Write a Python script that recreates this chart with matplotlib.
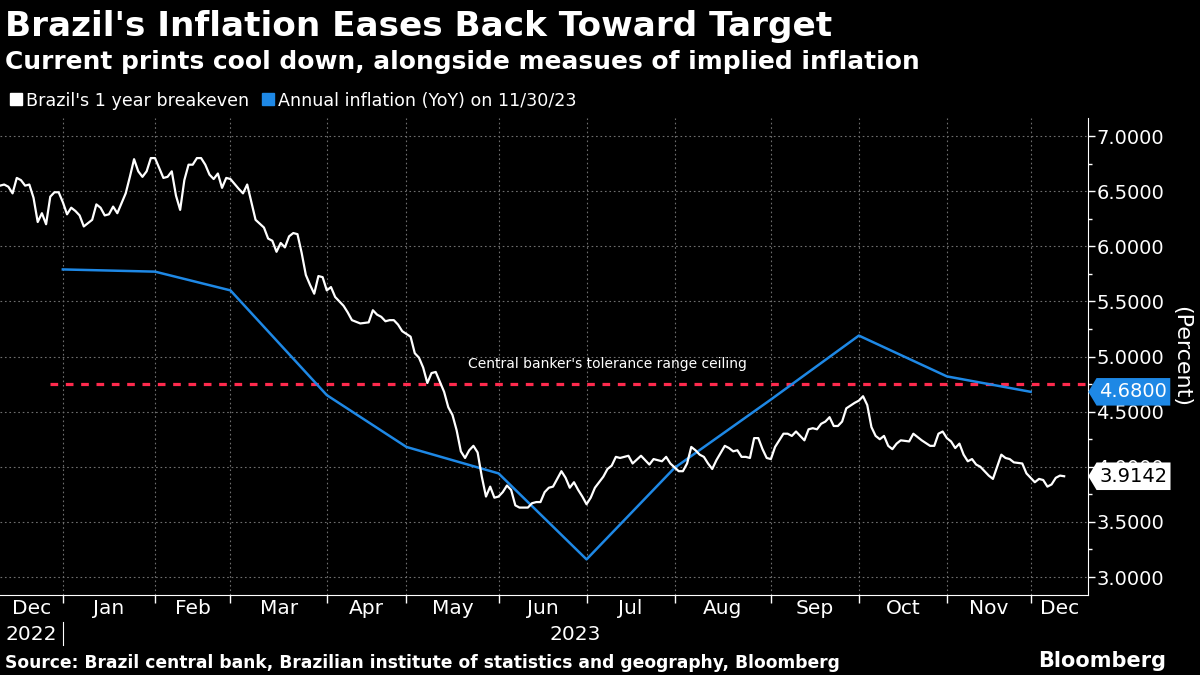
import matplotlib
matplotlib.use("Agg")
import matplotlib.pyplot as plt
import matplotlib.transforms as mtransforms
from matplotlib.path import Path
from matplotlib.lines import Line2D
from matplotlib.ticker import MultipleLocator, FixedLocator, NullFormatter

# trading-day number (0 = first day shown, mid Dec 2022) and 1y breakeven (%)
breakeven_day = list(range(56)) + [
    57, 58, 59, 60, 61, 63, 64, 65, 66, 67, 68, 69, 70, 71, 72, 73, 74, 75, 76, 77,
    78, 79, 80, 81, 82, 83, 84, 86, 88, 89, 90, 91, 92, 93, 94, 95, 96, 98, 99, 100,
    101, 102, 103, 104, 105, 106, 107, 108, 109, 110, 111, 112, 113, 114, 115, 116, 117, 118, 119, 120,
    121, 122, 123, 124, 126, 127, 128, 129, 130, 131, 132, 134, 135, 136, 137, 138, 139, 140, 141, 142,
    144, 145, 146, 147, 148, 150, 151, 153, 155, 156, 158, 159, 160, 162, 163, 164, 165, 166, 167, 168,
    169, 170, 171, 173, 174, 175, 176, 177, 178, 179, 180, 181, 182, 183, 184, 185, 187, 188, 189, 190,
    191, 192, 193, 194, 195, 196, 197, 198, 199, 200, 201, 202, 204, 205, 206, 207, 208, 209, 210, 211,
    212, 213, 214, 215, 217, 218, 219, 220, 222, 223, 224, 225, 226, 227, 228, 229, 230, 231, 232, 233,
    234, 235, 236, 237, 238, 239, 240, 241, 242, 244, 245, 246, 247, 248, 249, 250, 251, 252, 253, 254]
breakeven = [
    6.55, 6.56, 6.54, 6.48, 6.62, 6.60, 6.55, 6.56, 6.44, 6.22, 6.30, 6.20, 6.45, 6.49, 6.49, 6.40,
    6.29, 6.35, 6.32, 6.28, 6.18, 6.21, 6.24, 6.38, 6.35, 6.28, 6.29, 6.36, 6.30, 6.39, 6.48, 6.63,
    6.79, 6.68, 6.63, 6.68, 6.80, 6.80, 6.71, 6.62, 6.63, 6.68, 6.46, 6.33, 6.60, 6.74, 6.74, 6.80,
    6.80, 6.74, 6.65, 6.61, 6.66, 6.53, 6.62, 6.61,
    6.52, 6.48, 6.56, 6.40, 6.24, 6.17, 6.07, 6.05, 5.95, 6.03, 5.99, 6.09, 6.12, 6.11, 5.94, 5.74,
    5.65, 5.57, 5.73, 5.72, 5.60, 5.63, 5.54, 5.50, 5.46, 5.40, 5.33, 5.30, 5.31, 5.42, 5.38, 5.36,
    5.32, 5.33, 5.33, 5.29, 5.23, 5.18, 5.03, 4.99, 4.90, 4.76, 4.85, 4.86, 4.77, 4.68, 4.54, 4.47,
    4.33, 4.14, 4.08, 4.15, 4.19, 4.13, 3.91, 3.73, 3.82, 3.72, 3.73, 3.77, 3.83, 3.79, 3.65, 3.63,
    3.63, 3.67, 3.68, 3.68, 3.77, 3.81, 3.82, 3.96, 3.90, 3.81, 3.86, 3.79, 3.73, 3.66, 3.72, 3.81,
    3.91, 3.98, 4.01, 4.09, 4.08, 4.10, 4.03, 4.10, 4.02, 4.07, 4.05, 4.09, 4.03, 3.96, 3.96, 4.03,
    4.18, 4.15, 4.11, 4.09, 4.03, 3.98, 4.06, 4.19, 4.17, 4.14, 4.15, 4.09, 4.09, 4.08, 4.26, 4.26,
    4.16, 4.08, 4.07, 4.18, 4.30, 4.30, 4.28, 4.32, 4.28, 4.24, 4.34, 4.35, 4.34, 4.39, 4.41, 4.45,
    4.37, 4.37, 4.41, 4.53, 4.58, 4.60, 4.64, 4.56, 4.36, 4.28, 4.25, 4.28, 4.19, 4.16, 4.21, 4.24,
    4.23, 4.30, 4.27, 4.24, 4.19, 4.19, 4.30, 4.32, 4.26, 4.23, 4.17, 4.21, 4.11, 4.05, 4.07, 4.02,
    4.00, 3.96, 3.92, 3.89, 4.00, 4.11, 4.08, 4.07, 4.04, 4.03, 3.94, 3.90, 3.86, 3.89, 3.88, 3.82,
    3.84, 3.90, 3.92, 3.9142]

# first trading day of each month, Jan..Dec 2023
month_start_day = [15, 37, 55, 78, 97, 119, 140, 161, 184, 205, 226, 246]
month_labels = ["Dec", "Jan", "Feb", "Mar", "Apr", "May", "Jun",
                "Jul", "Aug", "Sep", "Oct", "Nov", "Dec"]
# annual IPCA inflation (YoY), Dec 2022 .. Nov 2023 prints
inflation_yoy = [5.79, 5.77, 5.60, 4.65, 4.18, 3.94, 3.16, 3.99, 4.61, 5.19, 4.82, 4.68]
ceiling = 4.75
ceiling_start_day = 12
last_day = 259.7

WHITE = "white"
BLUE = "#1e88e5"
RED = "#ff2a4d"
GRID = "#6e6e6e"

fig = plt.figure(figsize=(12, 6.75), dpi=100, facecolor="black")
ax = fig.add_axes([0.0, 0.1185, 0.9067, 0.7066], facecolor="black")

ax.plot(breakeven_day, breakeven, color=WHITE, lw=1.6, zorder=4)
ax.plot(month_start_day, inflation_yoy, color=BLUE, lw=1.8, zorder=3)
ax.plot([ceiling_start_day, last_day], [ceiling, ceiling], color=RED, lw=2.3,
        linestyle=(0, (2.4, 2.4)), zorder=2)
ax.text(145, ceiling + 0.12, "Central banker's tolerance range ceiling", color=WHITE,
        fontsize=10, ha="center", va="bottom")

ax.set_xlim(0, last_day)
ax.set_ylim(2.837, 7.163)

# y axis on the right
ax.yaxis.tick_right()
ax.yaxis.set_major_locator(MultipleLocator(0.5))
ax.yaxis.set_minor_locator(MultipleLocator(0.25))
ax.yaxis.set_major_formatter(lambda v, p: f"{v:.4f}")
ax.tick_params(axis="y", which="major", colors=WHITE, labelsize=14, length=5, width=1, pad=1)
ax.tick_params(axis="y", which="minor", colors=WHITE, length=3, width=1)
ax.set_ylabel("(Percent)", color=WHITE, fontsize=16, rotation=-90, labelpad=19)
ax.yaxis.set_label_position("right")

# x axis: month boundaries as ticks, month names centered in between
bounds = [0] + month_start_day + [last_day]
centers = [(a + b) / 2 for a, b in zip(bounds[:-1], bounds[1:])]
ax.xaxis.set_major_locator(FixedLocator(month_start_day))
ax.xaxis.set_major_formatter(NullFormatter())
ax.xaxis.set_minor_locator(FixedLocator(centers))
ax.set_xticklabels(month_labels, minor=True)
ax.tick_params(axis="x", which="major", colors=WHITE, length=6, width=1)
ax.tick_params(axis="x", which="minor", colors=WHITE, length=0, labelsize=14.5, pad=3)

ax.grid(True, which="major", color=GRID, linestyle=(0, (1.5, 2.5)), lw=0.8)
for s in ["left", "top"]:
    ax.spines[s].set_visible(False)
ax.spines["bottom"].set_color(WHITE)
ax.spines["right"].set_color(WHITE)

trans = mtransforms.blended_transform_factory(ax.transData, ax.transAxes)
ax.text(centers[0], -0.082, "2022", color=WHITE, fontsize=14.5, ha="center", va="center",
        transform=trans)
ax.text((month_start_day[0] + last_day) / 2, -0.082, "2023", color=WHITE, fontsize=14.5,
        ha="center", va="center", transform=trans)
ax.plot([month_start_day[0], month_start_day[0]], [-0.057, -0.105], color=WHITE, lw=0.8,
        transform=trans, clip_on=False)


# last-value tags on the right axis
def tag_box(x0, y0, width, height, mutation_size):
    padx = 0.15 * mutation_size
    pady = 0.22 * mutation_size
    x0, y0 = x0 - padx, y0 - pady
    width, height = width + 2 * padx, height + 2 * pady
    tip = 0.3 * height
    verts = [(x0, y0), (x0 + width, y0), (x0 + width, y0 + height), (x0, y0 + height),
             (x0 - tip, y0 + height / 2), (x0, y0)]
    return Path(verts, closed=True)


ytrans = mtransforms.blended_transform_factory(ax.transAxes, ax.transData)
ax.text(1.0105, inflation_yoy[-1], f"{inflation_yoy[-1]:.4f}", color=WHITE, fontsize=14,
        ha="left", va="center", transform=ytrans, zorder=6,
        bbox=dict(boxstyle=tag_box, fc=BLUE, ec="none"))
ax.text(1.0105, breakeven[-1], f"{breakeven[-1]:.4f}", color="black", fontsize=14,
        ha="left", va="center", transform=ytrans, zorder=6,
        bbox=dict(boxstyle=tag_box, fc=WHITE, ec="none"))

# titles, legend, source
fig.text(0.004, 0.947, "Brazil's Inflation Eases Back Toward Target", color=WHITE,
         fontsize=24.7, fontweight="bold", va="baseline")
fig.text(0.004, 0.898, "Current prints cool down, alongside measues of implied inflation",
         color=WHITE, fontsize=17.9, fontweight="bold", va="baseline")
handles = [Line2D([], [], color=WHITE, marker="s", ls="none", markersize=8),
           Line2D([], [], color=BLUE, marker="s", ls="none", markersize=8)]
fig.legend(handles, ["Brazil's 1 year breakeven", "Annual inflation (YoY) on 11/30/23"],
           loc="center left", bbox_to_anchor=(-0.004, 0.851), ncol=2, frameon=False,
           fontsize=12.6, labelcolor=WHITE, handlelength=0.6, handletextpad=0.25,
           columnspacing=0.8)
fig.text(0.004, 0.010, "Source: Brazil central bank, Brazilian institute of statistics and geography, Bloomberg",
         color=WHITE, fontsize=12.3, fontweight="bold", va="baseline")
fig.text(0.972, 0.012, "Bloomberg", color=WHITE, fontsize=15, fontweight="bold",
         va="baseline", ha="right")

fig.savefig("out.png", dpi=100, facecolor="black")
